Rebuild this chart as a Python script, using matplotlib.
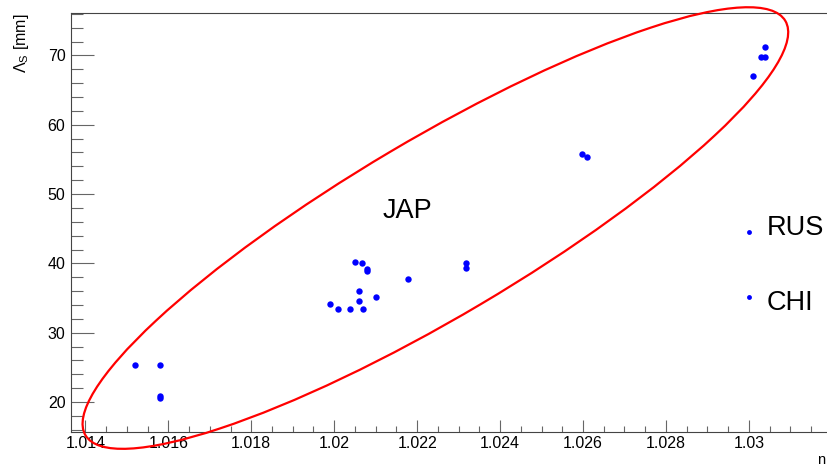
#!/usr/bin/env python3
"""
Lambda_S vs refractive index n -- aerogel samples (JAP / RUS / CHI)
"""

import matplotlib
matplotlib.use('Agg')
import matplotlib.pyplot as plt
from matplotlib.patches import Ellipse
from matplotlib.transforms import Affine2D
from matplotlib.ticker import MultipleLocator, FuncFormatter

plt.rcParams['font.family'] = ['Liberation Sans', 'DejaVu Sans']
plt.rcParams['mathtext.fontset'] = 'custom'
plt.rcParams['mathtext.rm'] = 'Liberation Sans'
plt.rcParams['mathtext.it'] = 'Liberation Sans:italic'

# measured samples: refractive index n, scattering length Lambda_S [mm]
n_values = [1.01519, 1.01579, 1.01579, 1.01579,
            1.01989, 1.02009, 1.02038, 1.02049, 1.02059, 1.02059,
            1.02068, 1.02069, 1.02079, 1.02079, 1.02100, 1.02179,
            1.02318, 1.02318, 1.02597, 1.02609,
            1.03009, 1.03029, 1.03039, 1.03039]
lambda_values = [25.34, 25.3, 20.9, 20.6,
                 34.1, 33.4, 33.4, 40.16, 36.0, 34.57,
                 40.06, 33.46, 39.24, 38.95, 35.2, 37.8,
                 40.0, 39.38, 55.8, 55.35,
                 67.1, 69.78, 69.78, 71.18]

# group labels (marker position + text position, data coords)
group_names = ['RUS', 'CHI']
group_marker_n = [1.03001, 1.03001]
group_marker_lambda = [44.49, 35.11]
group_text_n = [1.03044, 1.03044]
group_text_lambda = [44.1, 33.3]

jap_label = 'JAP'
jap_label_n = 1.02117
jap_label_lambda = 46.5

# JAP region ellipse: centre + two conjugate semi-axes (data units)
ell_center = (1.02244, 45.1)
ell_major = (0.00844, 29.9)
ell_minor = (-0.00109, 11.0)

x_range = (1.01365, 1.03191)
y_range = (15.67, 76.13)


def create_plot():
    fig = plt.figure(figsize=(8.28, 4.69), dpi=100)
    ax = fig.add_axes([0.0857, 0.0789, 0.9143, 0.8934])

    ax.plot(n_values, lambda_values, 'o', color='blue', ms=4.6, mew=0, zorder=3)
    ax.plot(group_marker_n, group_marker_lambda, 'o', color='blue', ms=3.5, mew=0,
            zorder=3)

    # ellipse: unit circle mapped into data space
    tr = Affine2D().from_values(ell_major[0], ell_major[1],
                                ell_minor[0], ell_minor[1],
                                ell_center[0], ell_center[1])
    ell = Ellipse((0, 0), 2, 2, fill=False, edgecolor='red', linewidth=1.6,
                  transform=tr + ax.transData, clip_on=False, zorder=4)
    ax.add_patch(ell)

    ax.text(jap_label_n, jap_label_lambda, jap_label, fontsize=19.5,
            ha='left', va='baseline')
    for name, xt, yt in zip(group_names, group_text_n, group_text_lambda):
        ax.text(xt, yt, name, fontsize=19.5, ha='left', va='baseline')

    ax.set_xlim(*x_range)
    ax.set_ylim(*y_range)

    # ROOT-like axes
    ax.spines['right'].set_visible(False)
    for side in ['left', 'bottom', 'top']:
        ax.spines[side].set_color('#444444')
        ax.spines[side].set_linewidth(0.8)

    ax.xaxis.set_major_locator(MultipleLocator(0.002))
    ax.xaxis.set_minor_locator(MultipleLocator(0.0005))
    ax.yaxis.set_major_locator(MultipleLocator(10))
    ax.yaxis.set_minor_locator(MultipleLocator(2))
    ax.xaxis.set_major_formatter(FuncFormatter(lambda v, p: f'{v:.4g}'))
    ax.yaxis.set_major_formatter(FuncFormatter(lambda v, p: f'{v:g}'))

    ax.tick_params(axis='x', which='major', direction='in', length=8.6, width=0.8,
                   color='#666666', labelsize=11.5, pad=3)
    ax.tick_params(axis='x', which='minor', direction='in', length=4.3, width=0.8,
                   color='#666666')
    ax.tick_params(axis='y', which='major', direction='in', length=16.5, width=0.8,
                   color='#666666', labelsize=11.5, pad=4)
    ax.tick_params(axis='y', which='minor', direction='in', length=8.4, width=0.8,
                   color='#666666')

    fig.text(0.026, 0.972, r'$\mathrm{\Lambda_S}$ [mm]', rotation=90,
             ha='center', va='top', fontsize=11.5)
    fig.text(0.997, 1 - 460 / 469, 'n', ha='right', va='center', fontsize=10.5)

    fig.savefig('out.png', dpi=100)
    plt.close(fig)


def main():
    create_plot()


if __name__ == "__main__":
    main()
